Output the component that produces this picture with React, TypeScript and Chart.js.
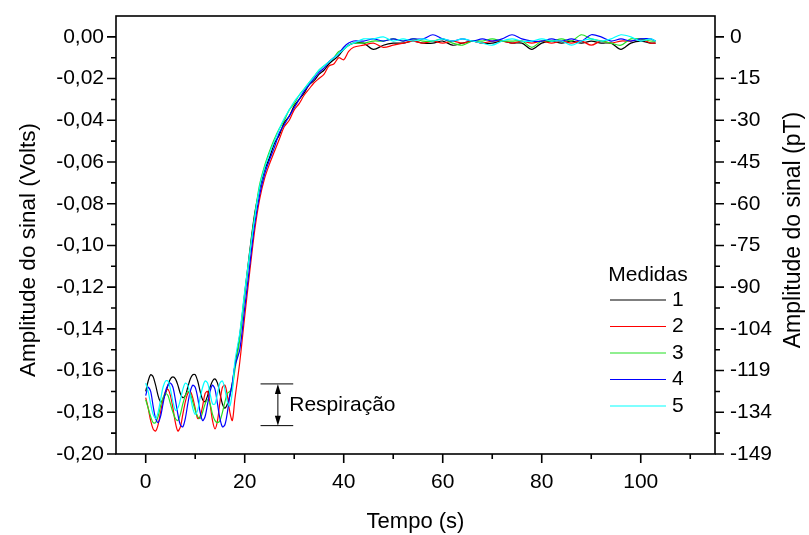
import React, { useEffect, useRef } from "react";
import { Chart, registerables } from "chart.js";

Chart.register(...registerables);

const FONT = "'Liberation Sans', Arial, Helvetica, sans-serif";

// Time axis (s)
const time = [
  0, 0.5, 1, 1.5, 2, 2.5, 3, 3.5, 4, 4.5, 5, 5.5, 6, 6.5, 7, 7.5, 8, 8.5, 9, 9.5,
  10, 10.5, 11, 11.5, 12, 12.5, 13, 13.5, 14, 14.5, 15, 15.5, 16, 16.5, 17, 17.5, 18,
  19, 20, 21, 22, 23, 24, 25, 26, 27, 28, 29, 30, 31, 32, 33, 34, 35, 36, 37, 38, 39, 40, 41, 42,
  44, 46, 48, 50, 52, 54, 56, 58, 60, 62, 64, 66, 68, 70, 72, 74, 76, 78, 80, 82,
  84, 86, 88, 90, 92, 94, 96, 98, 100, 102, 103,
];

const medida1 = [
  -0.170, -0.165, -0.162, -0.163, -0.167, -0.172, -0.175, -0.174, -0.171, -0.167,
  -0.164, -0.163, -0.164, -0.167, -0.171, -0.173, -0.172, -0.168, -0.164, -0.162,
  -0.162, -0.165, -0.170, -0.174, -0.175, -0.172, -0.168, -0.165, -0.164, -0.166,
  -0.171, -0.176, -0.178, -0.176, -0.172, -0.166, -0.158,
  -0.143, -0.123, -0.103, -0.085, -0.073, -0.064, -0.058, -0.051, -0.047, -0.041, -0.038, -0.033,
  -0.030, -0.027, -0.023, -0.021, -0.018, -0.016, -0.013, -0.011, -0.009, -0.006, -0.004, -0.003,
  -0.003, -0.006, -0.004, -0.003, -0.003, -0.002, -0.003, -0.003, -0.002, -0.004, -0.003, -0.002,
  -0.003, -0.003, -0.002, -0.003, -0.003, -0.006, -0.003, -0.002, -0.003, -0.002, -0.003, -0.002,
  -0.003, -0.003, -0.006, -0.003, -0.002, -0.003, -0.003,
];

const medida2 = [
  -0.173, -0.178, -0.184, -0.188, -0.189, -0.186, -0.180, -0.174, -0.170, -0.169,
  -0.172, -0.178, -0.185, -0.189, -0.187, -0.181, -0.175, -0.171, -0.170, -0.173,
  -0.178, -0.183, -0.182, -0.177, -0.171, -0.170, -0.176, -0.184, -0.188, -0.184,
  -0.175, -0.168, -0.167, -0.172, -0.180, -0.184, -0.174,
  -0.156, -0.134, -0.113, -0.093, -0.078, -0.068, -0.061, -0.055, -0.049, -0.043, -0.040, -0.035,
  -0.032, -0.028, -0.025, -0.022, -0.020, -0.018, -0.014, -0.013, -0.010, -0.011, -0.007, -0.005,
  -0.004, -0.003, -0.005, -0.004, -0.003, -0.002, -0.003, -0.002, -0.003, -0.002, -0.003, -0.002,
  -0.003, -0.002, -0.002, -0.003, -0.002, -0.003, -0.002, -0.003, -0.002, -0.003, -0.002, -0.004,
  -0.002, -0.003, -0.002, -0.002, -0.001, -0.003, -0.003,
];

const medida3 = [
  -0.174, -0.178, -0.182, -0.185, -0.185, -0.182, -0.177, -0.173, -0.171, -0.172,
  -0.176, -0.180, -0.183, -0.184, -0.181, -0.176, -0.172, -0.170, -0.171, -0.175,
  -0.179, -0.182, -0.183, -0.180, -0.176, -0.174, -0.176, -0.181, -0.184, -0.185,
  -0.184, -0.180, -0.175, -0.171, -0.170, -0.168, -0.160,
  -0.145, -0.124, -0.104, -0.086, -0.071, -0.062, -0.055, -0.049, -0.044, -0.040, -0.035, -0.032,
  -0.028, -0.025, -0.022, -0.019, -0.016, -0.014, -0.012, -0.010, -0.007, -0.006, -0.004, -0.003,
  -0.003, -0.002, -0.002, -0.001, -0.002, -0.001, -0.002, -0.002, -0.001, -0.003, -0.004, -0.002,
  -0.002, -0.001, -0.002, -0.002, -0.002, -0.005, -0.002, -0.002, -0.001, -0.002, 0.001, -0.001,
  -0.002, -0.003, -0.004, -0.001, -0.001, -0.002, -0.002,
];

const medida4 = [
  -0.172, -0.168, -0.170, -0.177, -0.183, -0.185, -0.182, -0.176, -0.170, -0.167,
  -0.166, -0.168, -0.174, -0.181, -0.186, -0.187, -0.183, -0.176, -0.170, -0.167,
  -0.168, -0.173, -0.180, -0.184, -0.182, -0.176, -0.170, -0.167, -0.169, -0.176,
  -0.183, -0.187, -0.186, -0.180, -0.172, -0.166, -0.158,
  -0.150, -0.130, -0.110, -0.090, -0.076, -0.066, -0.059, -0.053, -0.046, -0.042, -0.038, -0.034,
  -0.030, -0.026, -0.023, -0.020, -0.017, -0.015, -0.012, -0.010, -0.008, -0.005, -0.003, -0.002,
  -0.002, -0.001, -0.002, -0.001, -0.002, -0.001, -0.001, 0.001, -0.001, -0.002, -0.001, -0.002,
  -0.001, -0.002, -0.001, 0.001, -0.001, -0.002, -0.002, -0.001, -0.002, -0.001, -0.002, 0.001,
  0.000, -0.002, -0.001, -0.002, -0.001, -0.001, -0.002,
];

const medida5 = [
  -0.166, -0.170, -0.176, -0.181, -0.183, -0.180, -0.174, -0.168, -0.165, -0.165,
  -0.169, -0.175, -0.179, -0.178, -0.174, -0.169, -0.166, -0.167, -0.172, -0.178,
  -0.181, -0.179, -0.173, -0.168, -0.165, -0.166, -0.171, -0.176, -0.176, -0.171,
  -0.166, -0.165, -0.169, -0.175, -0.177, -0.170, -0.156,
  -0.142, -0.122, -0.104, -0.087, -0.072, -0.063, -0.056, -0.050, -0.044, -0.039, -0.035, -0.031,
  -0.028, -0.025, -0.022, -0.019, -0.016, -0.014, -0.012, -0.010, -0.008, -0.006, -0.004, -0.003,
  -0.001, -0.001, 0.000, -0.002, -0.001, -0.002, -0.001, -0.002, -0.001, -0.002, -0.001, -0.002,
  -0.003, -0.004, -0.002, -0.001, -0.002, -0.002, -0.001, -0.002, -0.002, -0.004, -0.002, -0.001,
  -0.002, -0.001, 0.001, 0.000, -0.002, -0.001, -0.002,
];

const seriesValues = [medida1, medida2, medida3, medida4, medida5];
const seriesNames = ["1", "2", "3", "4", "5"];
const seriesColors = ["#000000", "#ff0000", "#22e022", "#0000ff", "#00ffff"];

const xTickValues = [0, 20, 40, 60, 80, 100];
const xMinorValues = [10, 30, 50, 70, 90, 110];
const yTickValues = [-0.2, -0.18, -0.16, -0.14, -0.12, -0.1, -0.08, -0.06, -0.04, -0.02, 0];
const yMinorValues = [-0.19, -0.17, -0.15, -0.13, -0.11, -0.09, -0.07, -0.05, -0.03, -0.01];
const yLeftLabels = ["-0,20", "-0,18", "-0,16", "-0,14", "-0,12", "-0,10", "-0,08", "-0,06", "-0,04", "-0,02", "0,00"];
const yRightLabels = ["-149", "-134", "-119", "-104", "-90", "-75", "-60", "-45", "-30", "-15", "0"];

const xTitle = "Tempo (s)";
const yLeftTitle = "Amplitude do sinal (Volts)";
const yRightTitle = "Amplitude do sinal (pT)";
const legendTitle = "Medidas";

// Respiration annotation (data units)
const respTop = -0.1664;
const respBottom = -0.1864;
const respX0 = 23.2;
const respX1 = 29.8;
const respArrowX = 26.7;
const respTextX = 29.0;
const respText = "Respiração";

function labelFor(values: number[], labels: string[], v: number) {
  const i = values.findIndex((t) => Math.abs(t - v) < 1e-9);
  return i >= 0 ? labels[i] : "";
}

const decorPlugin = {
  id: "decor",
  afterDraw(chart: any) {
    const { ctx, chartArea: a, scales } = chart;
    const sx = scales.x;
    const sy = scales.y;
    ctx.save();
    ctx.strokeStyle = "#000";
    ctx.fillStyle = "#000";
    ctx.lineWidth = 1.6;
    ctx.strokeRect(a.left, a.top, a.right - a.left, a.bottom - a.top);

    ctx.beginPath();
    const MAJ = 9;
    const MIN = 5;
    xTickValues.forEach((v) => {
      const p = sx.getPixelForValue(v);
      ctx.moveTo(p, a.bottom);
      ctx.lineTo(p, a.bottom + MAJ);
    });
    xMinorValues.forEach((v) => {
      const p = sx.getPixelForValue(v);
      ctx.moveTo(p, a.bottom);
      ctx.lineTo(p, a.bottom + MIN);
    });
    yTickValues.forEach((v) => {
      const p = sy.getPixelForValue(v);
      ctx.moveTo(a.left, p);
      ctx.lineTo(a.left - MAJ, p);
      ctx.moveTo(a.right, p);
      ctx.lineTo(a.right + MAJ, p);
    });
    yMinorValues.forEach((v) => {
      const p = sy.getPixelForValue(v);
      ctx.moveTo(a.left, p);
      ctx.lineTo(a.left - MIN, p);
      ctx.moveTo(a.right, p);
      ctx.lineTo(a.right + MIN, p);
    });
    ctx.stroke();

    // Axis titles
    ctx.textAlign = "center";
    ctx.textBaseline = "middle";
    ctx.font = `22px ${FONT}`;
    ctx.fillText(xTitle, (a.left + a.right) / 2, 522);
    ctx.save();
    ctx.font = `22.5px ${FONT}`;
    ctx.translate(29, 250);
    ctx.rotate(-Math.PI / 2);
    ctx.fillText(yLeftTitle, 0, 0);
    ctx.restore();
    ctx.save();
    ctx.font = `23px ${FONT}`;
    ctx.translate(794, 230);
    ctx.rotate(-Math.PI / 2);
    ctx.fillText(yRightTitle, 0, 0);
    ctx.restore();

    // Legend
    ctx.font = `21px ${FONT}`;
    ctx.textAlign = "center";
    ctx.fillText(legendTitle, 648, 275);
    ctx.textAlign = "left";
    seriesNames.forEach((name, i) => {
      const ly = 300 + i * 26.5;
      ctx.strokeStyle = seriesColors[i];
      ctx.lineWidth = 1.2;
      ctx.beginPath();
      ctx.moveTo(610, ly);
      ctx.lineTo(666, ly);
      ctx.stroke();
      ctx.fillStyle = "#000";
      ctx.fillText(name, 672, ly);
    });

    // Respiration annotation
    const yT = sy.getPixelForValue(respTop);
    const yB = sy.getPixelForValue(respBottom);
    const x0 = sx.getPixelForValue(respX0);
    const x1 = sx.getPixelForValue(respX1);
    const xa = sx.getPixelForValue(respArrowX);
    ctx.strokeStyle = "#000";
    ctx.fillStyle = "#000";
    ctx.lineWidth = 1;
    ctx.beginPath();
    ctx.moveTo(x0, yT);
    ctx.lineTo(x1, yT);
    ctx.moveTo(x0, yB);
    ctx.lineTo(x1, yB);
    ctx.moveTo(xa, yT + 4);
    ctx.lineTo(xa, yB - 4);
    ctx.stroke();
    ctx.beginPath();
    ctx.moveTo(xa, yT);
    ctx.lineTo(xa - 3, yT + 10);
    ctx.lineTo(xa + 3, yT + 10);
    ctx.closePath();
    ctx.moveTo(xa, yB);
    ctx.lineTo(xa - 3, yB - 10);
    ctx.lineTo(xa + 3, yB - 10);
    ctx.closePath();
    ctx.fill();
    ctx.font = `21px ${FONT}`;
    ctx.textAlign = "left";
    ctx.textBaseline = "middle";
    ctx.fillText(respText, sx.getPixelForValue(respTextX), (yT + yB) / 2);

    ctx.restore();
  },
};

export default function App() {
  const ref = useRef<HTMLCanvasElement | null>(null);
  useEffect(() => {
    if (!ref.current) return;
    const tickFont = { family: FONT, size: 21 };
    const chart = new Chart(ref.current, {
      type: "line",
      data: {
        datasets: seriesValues.map((vals, i) => ({
          label: seriesNames[i],
          data: time.map((t, j) => ({ x: t, y: vals[j] })),
          borderColor: seriesColors[i],
          backgroundColor: seriesColors[i],
          borderWidth: 1.2,
          pointRadius: 0,
          tension: 0.3,
          fill: false,
          order: 5 - i,
        })),
      },
      options: {
        responsive: false,
        animation: false,
        devicePixelRatio: 1,
        layout: { padding: { top: 16, left: 0, right: 0, bottom: 0 } },
        plugins: { legend: { display: false }, tooltip: { enabled: false } },
        events: [],
        scales: {
          x: {
            type: "linear",
            min: -6,
            max: 115,
            afterBuildTicks: (s: any) => {
              s.ticks = xTickValues.map((v) => ({ value: v }));
            },
            afterFit: (s: any) => {
              s.height = 81;
              s.paddingLeft = 0;
              s.paddingRight = 0;
            },
            ticks: {
              font: tickFont,
              color: "#000",
              padding: 16,
              maxRotation: 0,
              autoSkip: false,
              callback: (v: any) => String(v),
            },
            grid: { display: false, drawTicks: false },
            border: { display: false },
          },
          y: {
            type: "linear",
            position: "left",
            min: -0.2,
            max: 0.01,
            afterBuildTicks: (s: any) => {
              s.ticks = yTickValues.map((v) => ({ value: v }));
            },
            afterFit: (s: any) => {
              s.width = 116;
              s.paddingTop = 0;
              s.paddingBottom = 0;
            },
            ticks: {
              font: tickFont,
              color: "#000",
              padding: 12,
              autoSkip: false,
              callback: (v: any) => labelFor(yTickValues, yLeftLabels, v),
            },
            grid: { display: false, drawTicks: false },
            border: { display: false },
          },
          y2: {
            type: "linear",
            position: "right",
            min: -0.2,
            max: 0.01,
            afterBuildTicks: (s: any) => {
              s.ticks = yTickValues.map((v) => ({ value: v }));
            },
            afterFit: (s: any) => {
              s.width = 94;
              s.paddingTop = 0;
              s.paddingBottom = 0;
            },
            ticks: {
              font: tickFont,
              color: "#000",
              padding: 15,
              autoSkip: false,
              callback: (v: any) => labelFor(yTickValues, yRightLabels, v),
            },
            grid: { display: false, drawTicks: false },
            border: { display: false },
          },
        },
      },
      plugins: [decorPlugin],
    } as any);
    return () => chart.destroy();
  }, []);

  return (
    <div style={{ position: "fixed", left: 0, top: 0, width: 809, height: 535, background: "#fff" }}>
      <canvas ref={ref} width={809} height={535} style={{ width: 809, height: 535 }} />
    </div>
  );
}
